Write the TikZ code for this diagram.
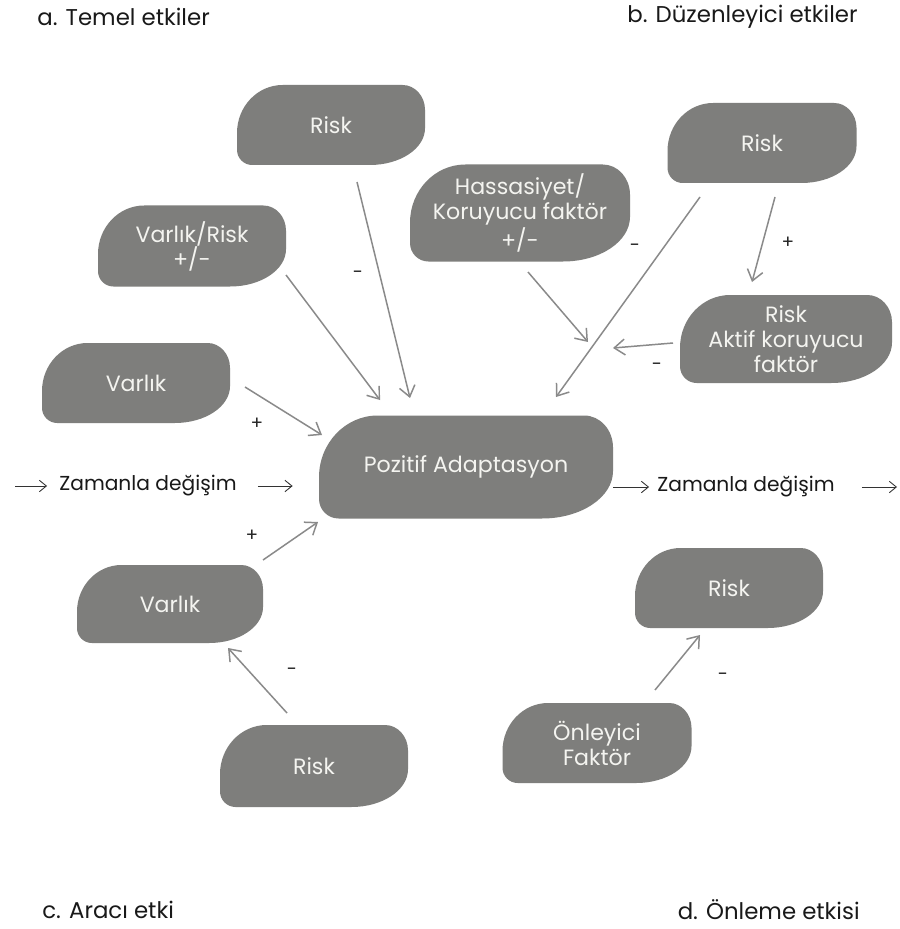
\documentclass[tikz,border=0pt]{standalone}
\usepackage{fontspec}
\setmainfont{Poppins}
\usetikzlibrary{calc,arrows.meta}
\definecolor{blobgray}{RGB}{126,126,124}
\definecolor{linegray}{RGB}{138,138,138}
\definecolor{blobtxt}{RGB}{244,244,240}
\newcommand{\blob}[6]{%
  \pgfmathsetmacro{\bXa}{#2-#4/2}\pgfmathsetmacro{\bXb}{#2+#4/2}%
  \pgfmathsetmacro{\bYa}{#3-#5/2}\pgfmathsetmacro{\bYb}{#3+#5/2}%
  \pgfmathsetmacro{\tlx}{0.57*#5}\pgfmathsetmacro{\tly}{0.6*#5}%
  \pgfmathsetmacro{\trx}{0.28*#5}\pgfmathsetmacro{\try}{0.31*#5}%
  \pgfmathsetmacro{\brx}{0.69*#5}\pgfmathsetmacro{\bry}{0.46*#5}%
  \pgfmathsetmacro{\blr}{0.19*#5}%
  \fill[blobgray] (\bXa+\tlx,\bYa) -- (\bXb-\trx,\bYa)
    .. controls (\bXb-0.448*\trx,\bYa) and (\bXb,\bYa+0.448*\try) .. (\bXb,\bYa+\try)
    -- (\bXb,\bYb-\bry)
    .. controls (\bXb,\bYb-0.448*\bry) and (\bXb-0.448*\brx,\bYb) .. (\bXb-\brx,\bYb)
    -- (\bXa+\blr,\bYb)
    .. controls (\bXa+0.448*\blr,\bYb) and (\bXa,\bYb-0.448*\blr) .. (\bXa,\bYb-\blr)
    -- (\bXa,\bYa+\tly)
    .. controls (\bXa,\bYa+0.448*\tly) and (\bXa+0.448*\tlx,\bYa) .. (\bXa+\tlx,\bYa) -- cycle;
  \node[blobtext, minimum width=#4*0.02cm, minimum height=#5*0.02cm] (#1) at (#2,#3) {#6};
}
\begin{document}
\begin{tikzpicture}[x=0.02cm,y=-0.02cm,
  blobtext/.style={text=blobtxt, font=\fontsize{12.6}{14.2}\selectfont, align=center, inner sep=0},
  conn/.style={draw=linegray, line width=0.85pt, -{Straight Barb[length=6pt,width=9pt]}},
  tarrow/.style={draw=black!80, line width=0.5pt, -{Straight Barb[length=4pt,width=6.5pt]}},
  lbl/.style={font=\fontsize{10.5}{12}\selectfont, inner sep=0, text=black!85},
  ztext/.style={font=\fontsize{11.5}{13}\selectfont, inner sep=0, text=black!90},
  title/.style={font=\fontsize{13}{15}\selectfont, inner sep=0, text=black!90},
]
\useasboundingbox (0,0) rectangle (899,929);
\fill[white] (0,0) rectangle (899,929);

% titles
\node[title, anchor=west] (ta) at (37,17) {a. Temel etkiler};
\node[title, anchor=east] (tb) at (858,17) {b. Düzenleyici etkiler};
\node[title, anchor=west] (tc) at (42,910) {c. Aracı etki};
\node[title, anchor=east] (td) at (860,910) {d. Önleme etkisi};

% blobs
\blob{riskA}{331}{125}{188}{80}{Risk}
\blob{vrA}{192}{246}{188}{81}{Varlık/Risk\\+/-}
\blob{hass}{520}{213}{220}{97}{Hassasiyet/\\Koruyucu faktör\\+/-}
\blob{riskB}{762}{143}{189}{80}{Risk}
\blob{aktif}{786}{339}{212}{88}{Risk\\Aktif koruyucu\\faktör}
\blob{varA}{136}{383}{188}{80}{Varlık}
\blob{poz}{466}{467}{294}{103}{Pozitif Adaptasyon}
\blob{varC}{170}{604}{186}{78}{Varlık}
\blob{riskC}{314}{766}{188}{82}{Risk}
\blob{riskD}{729}{588}{188}{80}{Risk}
\blob{onl}{597}{743}{189}{80}{Önleyici\\Faktör}

% moderation target points
\coordinate (m1) at (588,342);
\coordinate (m2) at (613,348);

% connectors
\draw[conn] ($(riskA)+(26,57)$) -- ($(poz)+(-56,-69)$);
\draw[conn] ($(vrA)+(94,29)$) -- ($(poz)+(-86,-67)$);
\draw[conn] ($(varA)+(109,4)$) -- ($(poz)+(-144,-32)$);
\draw[conn] ($(varC)+(93,-44)$) -- ($(poz)+(-148,55)$);
\draw[conn] ($(riskC)+(-27,-53)$) -- ($(varC)+(58,44)$);
\draw[conn] ($(onl)+(58,-53)$) -- ($(riskD)+(-29,47)$);
\draw[conn] ($(riskB)+(-62,54)$) -- ($(poz)+(90,-70)$);
\draw[conn] ($(riskB)+(13,54)$) -- ($(aktif)+(-34,-57)$);
\draw[conn] ($(hass)+(8,59)$) -- (m1);
\draw[conn] ($(aktif)+(-113,4)$) -- (m2);

% signs
\node[lbl] (s1) at (358,275) {-};
\node[lbl] (s2) at (257,424) {+};
\node[lbl] (s3) at (252,536) {+};
\node[lbl] (s4) at (292,672) {-};
\node[lbl] (s5) at (723,677) {-};
\node[lbl] (s6) at (635,248) {-};
\node[lbl] (s7) at (788,243) {+};
\node[lbl] (s8) at (657,367) {-};

% time change
\node[ztext] (zl) at (148,486) {Zamanla değişim};
\coordinate (zl0) at (15,486);
\draw[tarrow] (zl0) -- ($(zl.west)+(-12,0)$);
\draw[tarrow] ($(zl.east)+(21,0)$) -- ($(zl.east -| poz.west)+(-26,0)$);

\node[ztext] (zr) at (746,487) {Zamanla değişim};
\coordinate (zr1) at (897,487);
\draw[tarrow] (zr.west -| poz.east) -- ($(zr.west)+(-8,0)$);
\draw[tarrow] ($(zr.east)+(27,0)$) -- (zr1);
\end{tikzpicture}
\end{document}
